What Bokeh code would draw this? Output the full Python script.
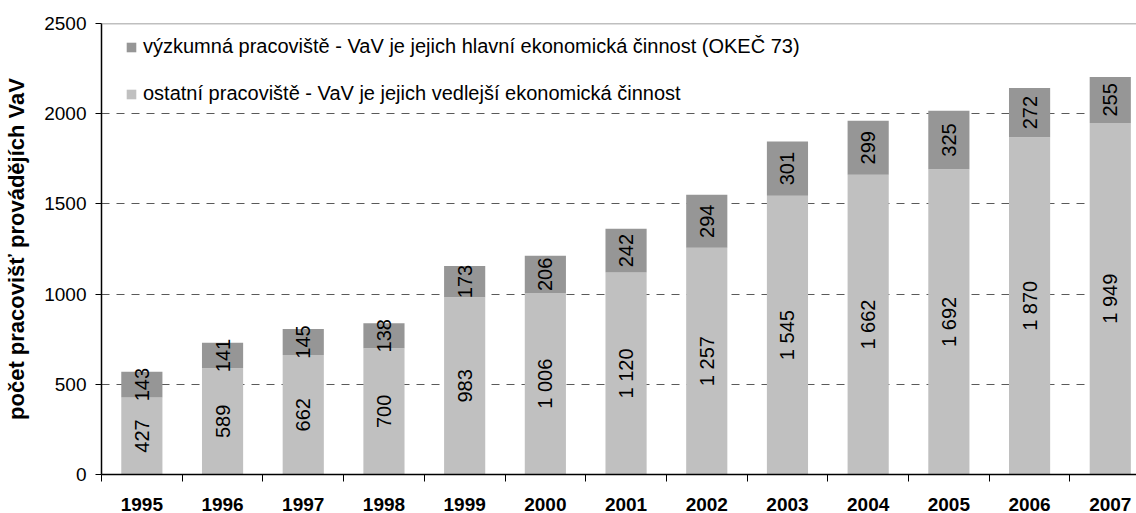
from bokeh.plotting import figure
from bokeh.models import (ColumnDataSource, Range1d, FixedTicker, Legend, LegendItem, Span)
from bokeh.embed import file_html
from bokeh.resources import INLINE
from bokeh.core.properties import value
import math

years = ["1995", "1996", "1997", "1998", "1999", "2000", "2001",
         "2002", "2003", "2004", "2005", "2006", "2007"]
ostatni = [427, 589, 662, 700, 983, 1006, 1120, 1257, 1545, 1662, 1692, 1870, 1949]
vyzkumna = [143, 141, 145, 138, 173, 206, 242, 294, 301, 299, 325, 272, 255]
yticks = [0, 500, 1000, 1500, 2000, 2500]

name_main = "výzkumná pracoviště - VaV je jejich hlavní ekonomická činnost (OKEČ 73)"
name_other = "ostatní pracoviště - VaV je jejich vedlejší ekonomická činnost"
ylabel = "počet pracovišť provádějích VaV"

LIGHT = "#c0c0c0"
DARK = "#969696"
FONT = "Liberation Sans"

def fmt(v):
    return f"{v:,}".replace(",", " ")

xs = list(range(len(years)))
src = ColumnDataSource(dict(
    x=xs,
    ostatni=ostatni,
    vyzkumna=vyzkumna,
    y_o=[o / 2 for o in ostatni],
    y_v=[o + v / 2 for o, v in zip(ostatni, vyzkumna)],
    t_o=[fmt(o) for o in ostatni],
    t_v=[fmt(v) for v in vyzkumna],
))

p = figure(width=1136, height=513, output_backend="svg", toolbar_location=None,
           x_range=Range1d(-0.5, 12.325), y_range=Range1d(0, 2500),
           min_border_left=101, min_border_right=0, min_border_top=23, min_border_bottom=38)
p.outline_line_color = None
p.background_fill_color = "white"

r = p.vbar_stack(["ostatni", "vyzkumna"], x="x", width=0.51, color=[LIGHT, DARK],
                 line_color=None, source=src)

for ycol, tcol in (("y_o", "t_o"), ("y_v", "t_v")):
    p.text(x="x", y=ycol, text=tcol, source=src, angle=math.pi / 2,
           text_align="center", text_baseline="middle",
           text_font=value(FONT), text_font_size="20px", text_color="black")

# grid
p.xgrid.visible = False
p.ygrid.ticker = FixedTicker(ticks=yticks[:-1])
p.ygrid.grid_line_color = "#5a5a5a"
p.ygrid.grid_line_dash = "8 7"
p.ygrid.grid_line_width = 1
p.add_layout(Span(location=yticks[-1], dimension="width", line_color="#808080", line_width=1.5))

# y axis
p.yaxis.ticker = FixedTicker(ticks=yticks)
p.yaxis.axis_line_color = "black"
p.yaxis.axis_line_width = 1.5
p.yaxis.major_tick_out = 6
p.yaxis.major_tick_in = 0
p.yaxis.minor_tick_line_color = None
p.yaxis.major_label_text_font = FONT
p.yaxis.major_label_text_font_size = "19px"
p.yaxis.major_label_text_color = "black"
p.yaxis.major_label_standoff = 9
p.yaxis.axis_label = ylabel
p.yaxis.axis_label_text_font = FONT
p.yaxis.axis_label_text_font_style = "bold"
p.yaxis.axis_label_text_font_size = "22px"
p.yaxis.axis_label_text_color = "black"
p.yaxis.axis_label_standoff = 12

# x axis
bounds = [i - 0.5 for i in range(len(years) + 1)]
p.xaxis.ticker = FixedTicker(ticks=xs, minor_ticks=bounds)
p.xaxis.major_label_overrides = {i: y for i, y in enumerate(years)}
p.xaxis.axis_line_color = "black"
p.xaxis.axis_line_width = 1.5
p.xaxis.major_tick_out = 0
p.xaxis.major_tick_in = 0
p.xaxis.minor_tick_out = 7
p.xaxis.minor_tick_in = 0
p.xaxis.minor_tick_line_color = "black"
p.xaxis.major_label_text_font = FONT
p.xaxis.major_label_text_font_style = "bold"
p.xaxis.major_label_text_font_size = "19px"
p.xaxis.major_label_text_color = "black"
p.xaxis.major_label_standoff = 16

legend = Legend(items=[LegendItem(label=name_main, renderers=[r[1]]),
                       LegendItem(label=name_other, renderers=[r[0]])],
                location=(24, 369), orientation="vertical",
                glyph_width=12, glyph_height=12, label_height=20,
                label_standoff=6, spacing=24, padding=0, margin=0,
                border_line_color=None, background_fill_alpha=0,
                label_text_font=FONT, label_text_font_size="20px",
                label_text_color="black")
p.add_layout(legend)

open("out.html", "w").write(file_html(p, INLINE))
